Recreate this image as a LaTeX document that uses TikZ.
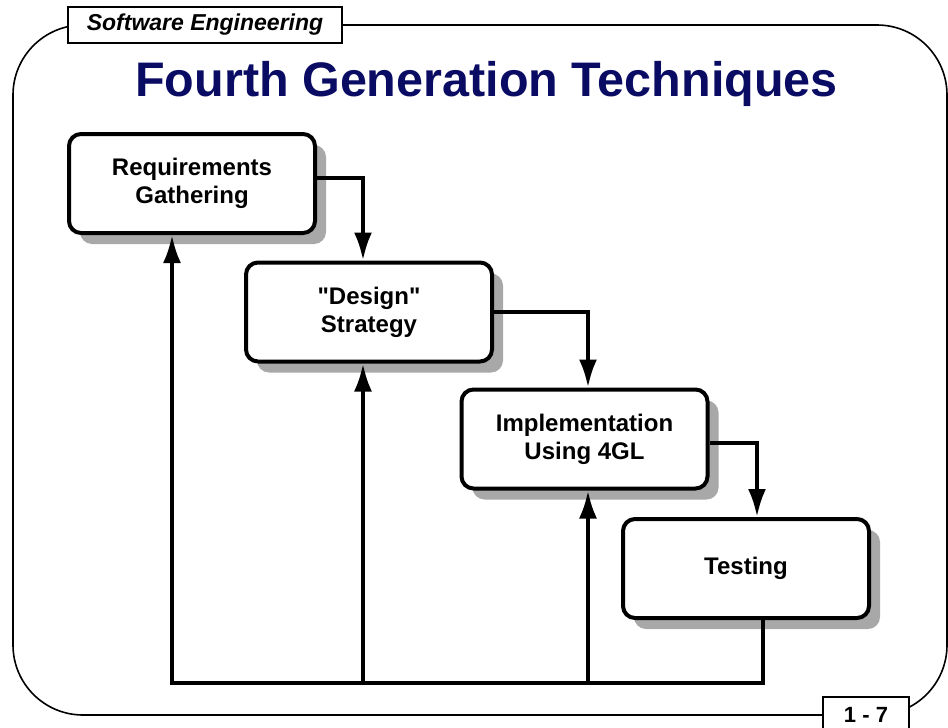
\documentclass[tikz,border=0pt]{standalone}
\usepackage{fontspec}
\setmainfont{Liberation Sans}
\usetikzlibrary{arrows.meta,shadows}
\definecolor{titlenavy}{RGB}{10,12,100}
\definecolor{shadowgray}{RGB}{168,168,168}

\begin{document}
\begin{tikzpicture}[x=1pt, y=-1pt,
    stage/.style ={draw, line width=4pt, rounded corners=12pt, fill=white,
      minimum width=246pt, minimum height=99pt, align=center,
      font=\fontsize{24}{28}\selectfont\bfseries,
      drop shadow={shadow xshift=11pt, shadow yshift=-11pt, fill=shadowgray, opacity=1}},
    flow/.style ={line width=4pt, -{Latex[length=28pt,width=18pt]}},
    tag/.style ={draw, line width=1.6pt, fill=white, inner sep=0pt}]
   \useasboundingbox (0,0) rectangle (948,728);
   \draw[line width=1.6pt, rounded corners=70pt] (13,25) rectangle (947,715);
   \node[tag, minimum width=274pt, minimum height=36pt, font=\fontsize{23}{23}\selectfont\bfseries\itshape] (course) at (205,25) {Software Engineering};
   \node[tag, minimum width=86pt, minimum height=36pt, font=\fontsize{22}{22}\selectfont\bfseries] (page) at (866,715) {1 - 7};
   \node[anchor=base, text=titlenavy, font=\fontsize{48.5}{48.5}\selectfont\bfseries] (title) at (486.5,96) {Fourth Generation Techniques};

   \node[stage] (req) at (192,183.5) {Requirements\\Gathering};
   \node[stage] (des) at (369,312) {\textquotedbl Design\textquotedbl\\Strategy};
   \node[stage] (imp) at (584.5,439) {Implementation\\Using 4GL};
   \node[stage] (tst) at (746,568.5) {Testing};

   \coordinate (loop) at (172,683);
   \coordinate (dback) at (363,683);
   \coordinate (iback) at (588,683);

   \draw[flow] ([yshift=5.5pt]req.east) -| ([xshift=-6pt]des.north);
   \draw[flow] (des.east) -| ([xshift=3.5pt]imp.north);
   \draw[flow] ([yshift=-4pt]imp.east) -| ([xshift=11pt]tst.north);

   \draw[flow] ([xshift=17pt]tst.south) |- (loop) -- (loop |- req.south);
   \draw[flow] (dback) -- (dback |- des.south);
   \draw[flow] (iback) -- (iback |- imp.south);
\end{tikzpicture}
\end{document}
